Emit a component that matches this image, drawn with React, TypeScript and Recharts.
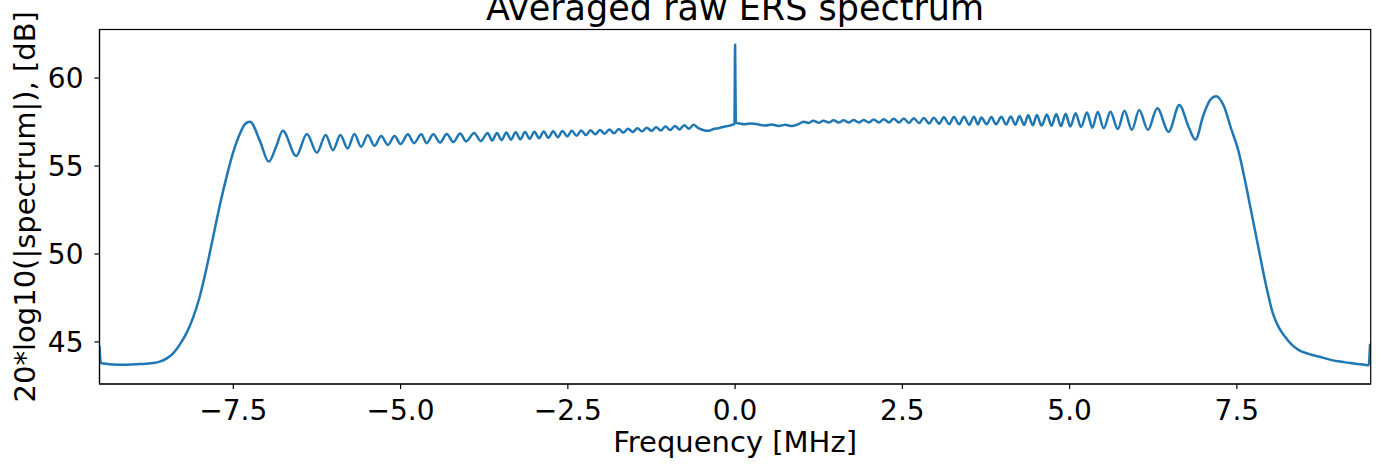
import React from 'react';
import { LineChart, Line, XAxis, YAxis } from 'recharts';

const W = 1384;
const H = 467;
const PLOT = { left: 99.5, top: 29.5, right: 1370.7, bottom: 384 };

const titleText = 'Averaged raw ERS spectrum';
const xLabelText = 'Frequency [MHz]';
const yLabelText = '20*log10(|spectrum|), [dB]';

const xTicks = [-7.5, -5, -2.5, 0, 2.5, 5, 7.5];
const yTicks = [45, 50, 55, 60];
const xDomain: [number, number] = [-9.5, 9.5];
const yDomain: [number, number] = [42.61, 62.76];

// [frequency MHz, level dB]
const lowerStopband: [number, number][] = [
  [-9.5, 44.8], [-9.48, 43.8], [-9.3, 43.72], [-9.1, 43.7], [-8.9, 43.74],
  [-8.7, 43.8], [-8.6, 43.88], [-8.5, 44.05],
];

const lowerRollOff: [number, number][] = [
  [-8.4, 44.35], [-8.3, 44.85], [-8.2, 45.5], [-8.1, 46.4], [-8.0, 47.6],
  [-7.9, 49.2], [-7.8, 51.0], [-7.7, 52.8], [-7.6, 54.4], [-7.5, 55.8],
  [-7.4, 56.85], [-7.32, 57.4], [-7.25, 57.52],
];

const lowerRipple: [number, number][] = [
  [-7.1, 56.4], [-6.97, 55.25], [-6.86, 56.1], [-6.76, 57.0], [-6.56, 55.57],
  [-6.4, 56.82], [-6.25, 55.76], [-6.12, 56.76], [-6.01, 55.9], [-5.9, 56.76],
  [-5.79, 56.0], [-5.69, 56.82], [-5.59, 56.1], [-5.49, 56.76], [-5.39, 56.15],
  [-5.29, 56.7], [-5.19, 56.2], [-5.09, 56.7], [-5.0, 56.25], [-4.89, 56.8],
  [-4.8, 56.3], [-4.69, 56.8], [-4.61, 56.3], [-4.51, 56.8], [-4.41, 56.33],
  [-4.31, 56.82], [-4.21, 56.36], [-4.11, 56.85], [-4.02, 56.4], [-3.9, 56.88],
  [-3.8, 56.42], [-3.7, 56.88],
];

const lowerBand: [number, number][] = [
  [-3.63, 56.45], [-3.56, 56.88], [-3.49, 56.47], [-3.42, 56.9], [-3.35, 56.5],
  [-3.28, 56.92], [-3.21, 56.52], [-3.14, 56.93], [-3.07, 56.55], [-3.0, 56.95],
  [-2.93, 56.58], [-2.86, 56.96], [-2.79, 56.6], [-2.72, 56.98], [-2.65, 56.64],
  [-2.58, 56.99], [-2.51, 56.68], [-2.44, 57.0], [-2.37, 56.72], [-2.3, 57.02],
  [-2.23, 56.76], [-2.16, 57.04], [-2.09, 56.8], [-2.02, 57.05], [-1.95, 56.83],
  [-1.88, 57.08], [-1.81, 56.86], [-1.74, 57.1], [-1.67, 56.9], [-1.6, 57.12],
  [-1.53, 56.93], [-1.46, 57.15], [-1.39, 56.97], [-1.32, 57.18], [-1.25, 57.0],
  [-1.18, 57.2], [-1.11, 57.02], [-1.04, 57.24], [-0.97, 57.05], [-0.9, 57.28],
  [-0.83, 57.08], [-0.76, 57.32], [-0.69, 57.12], [-0.62, 57.34], [-0.55, 57.15],
  [-0.48, 57.05], [-0.4, 57.0], [-0.32, 57.1], [-0.25, 57.15], [-0.18, 57.22],
  [-0.1, 57.28], [-0.04, 57.35], [-0.01, 57.38],
];

const dcSpike: [number, number][] = [[0.0, 61.9]];

const upperBand: [number, number][] = [
  [0.01, 57.45], [0.06, 57.42], [0.15, 57.38], [0.25, 57.42], [0.35, 57.36],
  [0.45, 57.3], [0.55, 57.36], [0.65, 57.28], [0.75, 57.34], [0.85, 57.27],
  [0.95, 57.38], [1.02, 57.52], [1.1, 57.45], [1.17, 57.58], [1.25, 57.46],
  [1.32, 57.58], [1.4, 57.47], [1.47, 57.6], [1.55, 57.47], [1.62, 57.6],
  [1.7, 57.48], [1.77, 57.62], [1.85, 57.48], [1.92, 57.62], [2.0, 57.48],
  [2.07, 57.64], [2.15, 57.48], [2.22, 57.66], [2.3, 57.48], [2.37, 57.68],
  [2.45, 57.47], [2.52, 57.7], [2.6, 57.45], [2.67, 57.72], [2.75, 57.44],
  [2.82, 57.73], [2.9, 57.42], [2.97, 57.75], [3.05, 57.4], [3.12, 57.77],
  [3.2, 57.38], [3.27, 57.78], [3.35, 57.37], [3.42, 57.8], [3.5, 57.35],
  [3.57, 57.8], [3.63, 57.36],
];

const upperRipple: [number, number][] = [
  [3.68, 57.76], [3.76, 57.38], [3.83, 57.78], [3.9, 57.37], [3.98, 57.8],
  [4.05, 57.36], [4.12, 57.82], [4.19, 57.34], [4.25, 57.85], [4.32, 57.33],
  [4.38, 57.88], [4.45, 57.32], [4.51, 57.9], [4.58, 57.3], [4.66, 57.93],
  [4.73, 57.29], [4.8, 57.95], [4.87, 57.27], [4.94, 57.97], [5.01, 57.25],
  [5.09, 58.0], [5.17, 57.22], [5.26, 58.04], [5.34, 57.18], [5.42, 58.07],
  [5.51, 57.14], [5.61, 58.09], [5.72, 57.1], [5.82, 58.14], [5.93, 57.05],
  [6.04, 58.18], [6.17, 57.05], [6.31, 58.28], [6.48, 56.95], [6.64, 58.47],
  [6.78, 57.2], [6.88, 56.5], [7.0, 57.9], [7.1, 58.75], [7.19, 58.97],
];

const upperRollOff: [number, number][] = [
  [7.3, 58.45], [7.42, 57.05], [7.52, 55.9], [7.62, 54.2], [7.72, 52.3],
  [7.82, 50.4], [7.92, 48.5], [8.04, 46.6], [8.13, 45.8], [8.22, 45.3],
  [8.32, 44.85], [8.42, 44.55],
];

const upperStopband: [number, number][] = [
  [8.57, 44.32], [8.72, 44.17], [9.01, 43.9], [9.2, 43.8], [9.41, 43.7],
  [9.47, 43.68], [9.49, 44.9],
];

const spectrum = [
  ...lowerStopband, ...lowerRollOff, ...lowerRipple, ...lowerBand, ...dcSpike,
  ...upperBand, ...upperRipple, ...upperRollOff, ...upperStopband,
].map(([f, db]) => ({ f, db }));

const FONT = 'DejaVu Sans, sans-serif';
const fmtX = (v: number) => v.toFixed(1).replace('-', '\u2212');

export default function App() {
  const plotW = PLOT.right - PLOT.left;
  const plotH = PLOT.bottom - PLOT.top;
  const midY = (PLOT.top + PLOT.bottom) / 2;
  return (
    <div style={{ position: 'absolute', left: 0, top: 0, width: W, height: H, background: '#fff', fontFamily: FONT, overflow: 'hidden' }}>
      <LineChart
        width={W}
        height={H}
        data={spectrum}
        margin={{ top: PLOT.top, right: W - PLOT.right, bottom: H - PLOT.bottom - 60, left: 0 }}
      >
        <XAxis
          dataKey="f"
          type="number"
          domain={xDomain}
          ticks={xTicks}
          interval={0}
          allowDataOverflow
          height={60}
          tickSize={5}
          tickMargin={11}
          tickFormatter={fmtX}
          tick={{ fontSize: 28, fill: '#000', fontFamily: FONT }}
          axisLine={{ stroke: '#000', strokeWidth: 1.2 }}
          tickLine={{ stroke: '#000', strokeWidth: 1.2 }}
        />
        <YAxis
          type="number"
          domain={yDomain}
          ticks={yTicks}
          interval={0}
          allowDataOverflow
          width={PLOT.left}
          tickSize={5}
          tickMargin={11}
          tick={{ fontSize: 28, fill: '#000', fontFamily: FONT }}
          axisLine={{ stroke: '#000', strokeWidth: 1.2 }}
          tickLine={{ stroke: '#000', strokeWidth: 1.2 }}
        />
        <Line
          dataKey="db"
          type="monotone"
          stroke="#1f77b4"
          strokeWidth={2.5}
          dot={false}
          isAnimationActive={false}
        />
      </LineChart>
      <svg width={W} height={H} style={{ position: 'absolute', left: 0, top: 0, pointerEvents: 'none' }}>
        <rect x={PLOT.left} y={PLOT.top} width={plotW} height={plotH} fill="none" stroke="#000" strokeWidth={1.2} />
        <text x={(PLOT.left + PLOT.right) / 2} y={20} textAnchor="middle" fontSize={35} fontFamily={FONT} fill="#000">{titleText}</text>
        <text x={(PLOT.left + PLOT.right) / 2} y={452} textAnchor="middle" fontSize={29} fontFamily={FONT} fill="#000">{xLabelText}</text>
        <text x={35} y={midY} transform={`rotate(-90 35 ${midY})`} textAnchor="middle" fontSize={29} fontFamily={FONT} fill="#000">{yLabelText}</text>
      </svg>
    </div>
  );
}
